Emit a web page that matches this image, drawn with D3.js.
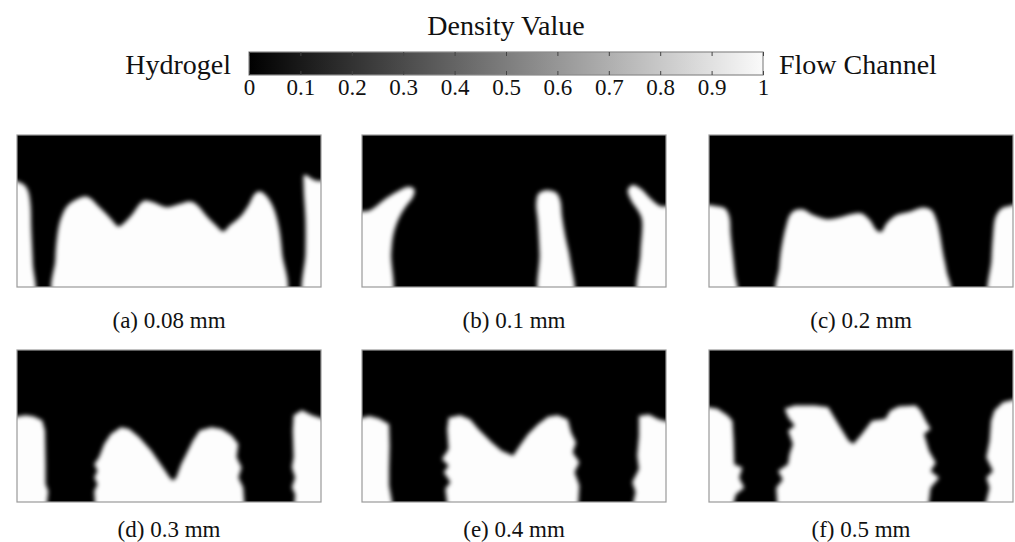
<!DOCTYPE html>
<html>
<head>
<meta charset="utf-8">
<script src="https://d3js.org/d3.v7.min.js"></script>
<style>
  body { margin: 0; background: #fff; }
  text { font-family: "Liberation Serif", "Times New Roman", serif; fill: #111; }
</style>
</head>
<body>
<svg id="fig" width="1015" height="542"></svg>
<script>
// colour bar
const barTicks = [0, 0.1, 0.2, 0.3, 0.4, 0.5, 0.6, 0.7, 0.8, 0.9, 1];
const barTitle = "Density Value";
const barLeftLabel = "Hydrogel";
const barRightLabel = "Flow Channel";

// panel captions
const captions = ["(a) 0.08 mm", "(b) 0.1 mm", "(c) 0.2 mm", "(d) 0.3 mm", "(e) 0.4 mm", "(f) 0.5 mm"];

// white (density = 1) regions of every panel, [x, y] with x 0..1 left->right, y 0..1 bottom->top
const panelA = [
  [[0,0],[0,0.694],[0.02,0.678],[0.035,0.639],[0.044,0.551],[0.047,0.376],[0.052,0.158],[0.055,0]],
  [[0.126,0],[0.126,0.179],[0.132,0.333],[0.143,0.442],[0.164,0.53],[0.192,0.573],[0.225,0.595],[0.241,0.584],
   [0.274,0.519],[0.307,0.453],[0.334,0.398],[0.345,0.409],[0.378,0.475],[0.406,0.551],[0.422,0.569],[0.45,0.556],
   [0.493,0.525],[0.537,0.547],[0.57,0.562],[0.592,0.54],[0.625,0.464],[0.658,0.398],[0.678,0.365],[0.702,0.409],
   [0.735,0.464],[0.762,0.54],[0.784,0.617],[0.8,0.628],[0.822,0.595],[0.844,0.519],[0.861,0.398],[0.872,0.223],[0.877,0]],
  [[0.945,0],[0.949,0.223],[0.949,0.442],[0.943,0.661],[0.945,0.737],[0.96,0.726],[0.982,0.7],[1,0.683],[1,0]]
];
const panelB = [
  [[0,0],[0,0.473],[0.027,0.505],[0.071,0.571],[0.115,0.626],[0.154,0.659],[0.172,0.642],[0.168,0.593],
   [0.143,0.527],[0.121,0.451],[0.104,0.352],[0.096,0.22],[0.093,0]],
  [[0.587,0],[0.584,0.22],[0.578,0.44],[0.573,0.549],[0.581,0.615],[0.608,0.637],[0.639,0.62],[0.652,0.571],
   [0.658,0.462],[0.669,0.33],[0.685,0.176],[0.693,0]],
  [[0.912,0],[0.916,0.22],[0.921,0.44],[0.91,0.495],[0.885,0.571],[0.874,0.637],[0.888,0.67],[0.916,0.648],
   [0.949,0.582],[0.982,0.532],[1,0.523],[1,0]]
];
const panelC = [
  [[0,0],[0,0.523],[0.025,0.532],[0.053,0.516],[0.067,0.462],[0.071,0.352],[0.078,0.22],[0.085,0.088],[0.091,0]],
  [[0.228,0],[0.231,0.132],[0.239,0.264],[0.253,0.396],[0.266,0.473],[0.283,0.505],[0.31,0.51],[0.343,0.473],
   [0.387,0.446],[0.425,0.455],[0.463,0.477],[0.502,0.484],[0.529,0.44],[0.551,0.374],[0.567,0.363],[0.584,0.418],
   [0.617,0.473],[0.66,0.495],[0.704,0.523],[0.732,0.505],[0.748,0.44],[0.759,0.352],[0.77,0.22],[0.781,0.11],[0.792,0]],
  [[0.923,0],[0.929,0.176],[0.934,0.33],[0.943,0.462],[0.962,0.516],[0.984,0.532],[1,0.532],[1,0]]
];
const panelD = [
  [[0,0],[0,0.547],[0.028,0.57],[0.055,0.563],[0.083,0.536],[0.092,0.47],[0.094,0.249],[0.094,0.117],[0.103,0.073],[0.094,0]],
  [[0.259,0],[0.254,0.073],[0.265,0.117],[0.254,0.161],[0.265,0.205],[0.254,0.249],[0.27,0.294],[0.287,0.382],
   [0.309,0.448],[0.342,0.492],[0.369,0.481],[0.402,0.426],[0.441,0.338],[0.48,0.227],[0.502,0.161],[0.513,0.139],
   [0.524,0.161],[0.54,0.249],[0.557,0.316],[0.579,0.404],[0.601,0.47],[0.639,0.492],[0.673,0.481],[0.706,0.437],
   [0.728,0.382],[0.722,0.294],[0.739,0.227],[0.728,0.161],[0.744,0.095],[0.75,0]],
  [[0.91,0],[0.915,0.051],[0.904,0.095],[0.915,0.161],[0.904,0.227],[0.91,0.294],[0.907,0.47],[0.91,0.57],
   [0.937,0.603],[0.97,0.57],[1,0.525],[1,0]]
];
const panelE = [
  [[0,0],[0,0.533],[0.024,0.565],[0.057,0.548],[0.089,0.511],[0.091,0.37],[0.089,0.217],[0.089,0.109],[0.106,0]],
  [[0.285,0],[0.274,0.087],[0.291,0.13],[0.269,0.196],[0.285,0.239],[0.263,0.283],[0.285,0.348],[0.28,0.478],
   [0.285,0.554],[0.323,0.57],[0.356,0.543],[0.383,0.478],[0.427,0.391],[0.459,0.337],[0.497,0.304],[0.519,0.37],
   [0.546,0.446],[0.579,0.511],[0.612,0.561],[0.644,0.57],[0.677,0.543],[0.688,0.457],[0.704,0.391],[0.693,0.326],
   [0.715,0.261],[0.699,0.196],[0.715,0.109],[0.709,0]],
  [[0.884,0],[0.9,0.065],[0.889,0.13],[0.911,0.217],[0.905,0.304],[0.911,0.435],[0.911,0.565],[0.944,0.576],
   [0.976,0.543],[1,0.511],[1,0]]
];
const panelF = [
  [[0,0],[0,0.635],[0.028,0.613],[0.061,0.569],[0.077,0.535],[0.081,0.403],[0.083,0.248],[0.11,0.226],
   [0.099,0.159],[0.116,0.093],[0.088,0.049],[0.072,0]],
  [[0.227,0],[0.221,0.093],[0.243,0.148],[0.227,0.204],[0.26,0.248],[0.265,0.314],[0.276,0.381],[0.26,0.469],
   [0.282,0.502],[0.26,0.558],[0.249,0.613],[0.282,0.635],[0.348,0.635],[0.392,0.624],[0.425,0.513],[0.459,0.403],
   [0.475,0.381],[0.503,0.447],[0.536,0.535],[0.58,0.546],[0.597,0.602],[0.624,0.628],[0.68,0.635],[0.696,0.602],
   [0.713,0.535],[0.729,0.48],[0.707,0.447],[0.724,0.336],[0.746,0.259],[0.729,0.204],[0.757,0.159],[0.729,0.093],[0.718,0]],
  [[0.901,0],[0.923,0.093],[0.912,0.159],[0.934,0.204],[0.912,0.292],[0.923,0.403],[0.928,0.535],[0.939,0.602],
   [0.967,0.657],[1,0.69],[1,0]]
];

const panels = [panelA, panelB, panelC, panelD, panelE, panelF];
const smooth = [true, true, true, false, false, false];

const svg = d3.select("#fig");
const defs = svg.append("defs");

// ---- colour bar ----
const barX = d3.scaleLinear().domain([0, 1]).range([249, 763]);
const barTop = 52, barH = 23;

const grad = defs.append("linearGradient").attr("id", "greys");
grad.append("stop").attr("offset", "0%").attr("stop-color", "#000");
grad.append("stop").attr("offset", "100%").attr("stop-color", "#fafafa");

svg.append("rect")
  .attr("x", barX(0)).attr("y", barTop)
  .attr("width", barX(1) - barX(0)).attr("height", barH)
  .attr("fill", "url(#greys)")
  .attr("stroke", "#8a8a8a").attr("stroke-width", 1.2);

svg.append("g")
  .attr("transform", `translate(0,${barTop})`)
  .call(d3.axisTop(barX).tickValues(barTicks).tickSize(-4).tickFormat(""))
  .call(g => g.select(".domain").remove())
  .call(g => g.selectAll("line").attr("stroke", "#444"));

svg.append("g")
  .attr("transform", `translate(0,${barTop + barH})`)
  .call(d3.axisBottom(barX).tickValues(barTicks).tickSize(-4).tickPadding(4)
    .tickFormat(d3.format("~g")))
  .call(g => g.select(".domain").remove())
  .call(g => g.selectAll("line").attr("stroke", "#444"))
  .call(g => g.selectAll("text")
    .attr("font-family", "Liberation Serif, serif")
    .attr("font-size", 23).attr("fill", "#111"));

svg.append("text").attr("x", 506).attr("y", 35)
  .attr("text-anchor", "middle").attr("font-size", 28).text(barTitle);
svg.append("text").attr("x", 231).attr("y", 74)
  .attr("text-anchor", "end").attr("font-size", 28).text(barLeftLabel);
svg.append("text").attr("x", 779).attr("y", 74)
  .attr("text-anchor", "start").attr("font-size", 28).text(barRightLabel);

// ---- density panels ----
const W = 304, H = 152;
const colX = [17, 362, 709];
const rowY = [135, 350];

const x = d3.scaleLinear().domain([0, 1]).range([0, W]);
const y = d3.scaleLinear().domain([0, 1]).range([H, 0]);

defs.append("clipPath").attr("id", "panelClip")
  .append("rect").attr("width", W).attr("height", H);

const blur = defs.append("filter").attr("id", "soft")
  .attr("x", "-10%").attr("y", "-10%").attr("width", "120%").attr("height", "120%");
blur.append("feGaussianBlur").attr("stdDeviation", 2);

// push boundary points a little outside so the blur does not darken the frame
const pad = p => [p[0] <= 0 ? -0.04 : p[0] >= 1 ? 1.04 : p[0], p[1] <= 0 ? -0.08 : p[1]];

panels.forEach((shapes, i) => {
  const g = svg.append("g")
    .attr("transform", `translate(${colX[i % 3]},${rowY[Math.floor(i / 3)]})`);

  const inner = g.append("g").attr("clip-path", "url(#panelClip)");
  inner.append("rect").attr("width", W).attr("height", H).attr("fill", "#000");

  const line = d3.line()
    .x(d => x(d[0])).y(d => y(d[1]))
    .curve(smooth[i] ? d3.curveCatmullRomClosed.alpha(0.5) : d3.curveLinearClosed);

  inner.append("g").attr("filter", "url(#soft)")
    .selectAll("path").data(shapes).join("path")
    .attr("d", d => line(d.map(pad)))
    .attr("fill", "#fdfdfd");

  g.append("rect").attr("width", W).attr("height", H)
    .attr("fill", "none").attr("stroke", "#9a9a9a").attr("stroke-width", 1.2);

  g.append("text")
    .attr("x", W / 2).attr("y", H + (i < 3 ? 41 : 35))
    .attr("text-anchor", "middle").attr("font-size", 23)
    .text(captions[i]);
});
</script>
</body>
</html>
